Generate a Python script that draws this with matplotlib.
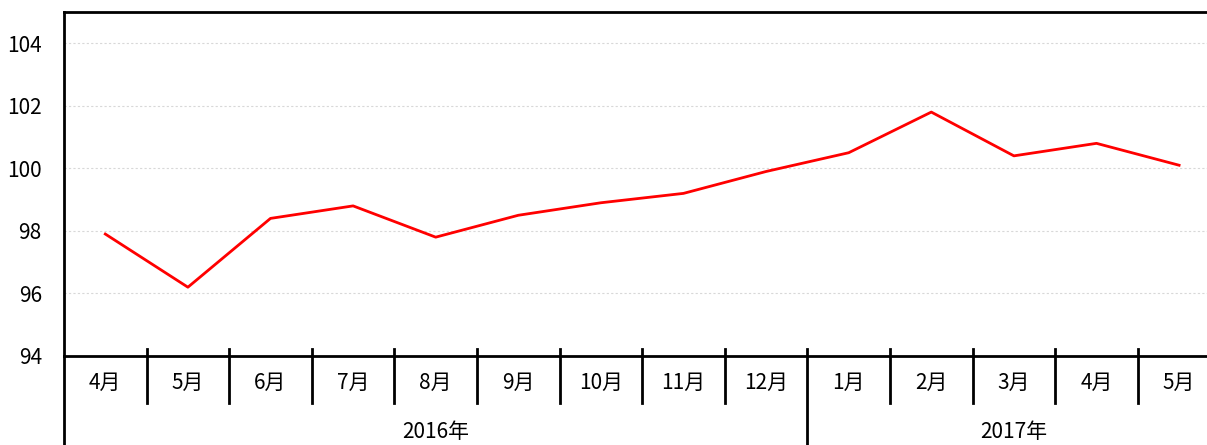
import matplotlib.pyplot as plt
import matplotlib.transforms as mtransforms

plt.rcParams['font.family'] = ['Noto Sans CJK JP', 'DejaVu Sans']

months = ["4月", "5月", "6月", "7月", "8月", "9月", "10月", "11月", "12月",
          "1月", "2月", "3月", "4月", "5月"]
years = ["2016年", "2017年"]
year_counts = [9, 5]
values = [97.9, 96.2, 98.4, 98.8, 97.8, 98.5, 98.9, 99.2, 99.9,
          100.5, 101.8, 100.4, 100.8, 100.1]
yticks = [94, 96, 98, 100, 102, 104]

W, H = 1207, 445
fig = plt.figure(figsize=(W / 100, H / 100), dpi=100)
left, right, top, bottom = 64, 1207, 12, 356
ax = fig.add_axes([left / W, (H - bottom) / H, (right - left) / W, (bottom - top) / H])

x = list(range(len(months)))
ax.plot(x, values, color="#ff0000", lw=2, clip_on=False, zorder=3)

catw = 82.6
ax.set_xlim(-0.5, -0.5 + (right - left) / catw)
ax.set_ylim(94, 105)
ax.set_yticks(yticks)
ax.set_yticklabels([str(v) for v in yticks], fontsize=15)
ax.tick_params(axis="y", length=0, pad=16)
ax.set_xticks([])
ax.grid(axis="y", color="#d8d8d8", ls=(0, (2, 2)), lw=0.8)

for s in ["left", "top", "bottom"]:
    ax.spines[s].set_linewidth(2)
ax.spines["right"].set_visible(False)

ah = bottom - top
trans = mtransforms.blended_transform_factory(ax.transData, ax.transAxes)
# category separators
for k in range(len(months) - 1):
    low = -47 / ah
    if k + 1 == year_counts[0]:
        low = -(H - bottom) / ah
    ax.plot([k + 0.5, k + 0.5], [7 / ah, low], color="black", lw=2,
            transform=trans, clip_on=False)
ax.plot([-0.5, -0.5], [0, -(H - bottom) / ah], color="black", lw=2,
        transform=trans, clip_on=False)

for i, m in enumerate(months):
    ax.text(i, -27 / ah, m, transform=trans, ha="center", va="center", fontsize=15)

start = 0
for yr, n in zip(years, year_counts):
    c = start - 0.5 + n / 2
    ax.text(c, -76 / ah, yr, transform=trans, ha="center", va="center", fontsize=15)
    start += n

fig.savefig("out.png", dpi=100)
